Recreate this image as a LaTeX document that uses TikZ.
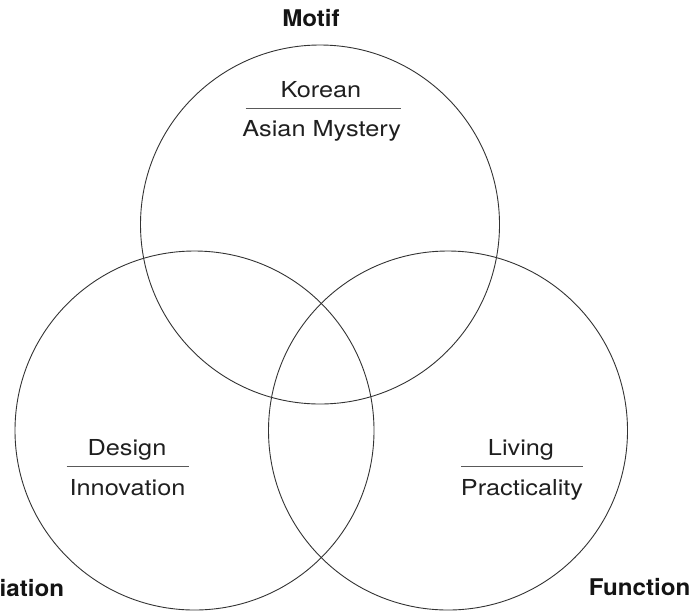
\documentclass[tikz,border=0pt]{standalone}
\usepackage{graphicx}
\usepackage{fontspec}
\setmainfont{TeX Gyre Heros}
\newcommand{\widetxt}[1]{\scalebox{1.15}[1]{#1}}
\newcommand{\widebold}[1]{\scalebox{1.05}[1]{#1}}
\begin{document}
\begin{tikzpicture}[x=1pt,y=-1pt,
  ring/.style={circle,draw=black!80,line width=0.9pt,minimum size=359pt,inner sep=0pt},
  lbl/.style={font=\fontsize{22}{26}\selectfont,text=black!88,inner sep=0pt,anchor=base},
  head/.style={font=\fontsize{23}{26}\selectfont\bfseries,text=black!92,inner sep=0pt,anchor=base},
  rule/.style={draw=black!65,line width=0.9pt}]
\useasboundingbox (0,0) rectangle (692,611);
\node[ring] (top) at (320,224.5) {};
\node[ring] (left) at (194.5,430.5) {};
\node[ring] (right) at (448,430.5) {};
% top
\node[head] (motif) at (311,26.5) {\widebold{Motif}};
\node[lbl] (korean) at (321,97) {\widetxt{Korean}};
\coordinate (k1) at (245.5,108.3);
\coordinate (k2) at (401,108.3);
\draw[rule] (k1) -- (k2);
\node[lbl] (asian) at (321.7,136.5) {\widetxt{Asian Mystery}};
% left
\node[lbl] (design) at (127,455) {\widetxt{Design}};
\coordinate (d1) at (66.7,466.7);
\coordinate (d2) at (189.3,466.7);
\draw[rule] (d1) -- (d2);
\node[lbl] (innov) at (127.5,495.5) {\widetxt{Innovation}};
\node[head,anchor=base west] (iation) at (-0.5,596) {\widebold{iation}};
% right
\node[lbl] (living) at (521,455) {\widetxt{Living}};
\coordinate (l1) at (461,466);
\coordinate (l2) at (583.3,466);
\draw[rule] (l1) -- (l2);
\node[lbl] (pract) at (522,495) {\widetxt{Practicality}};
\node[head,anchor=base east] (func) at (690.5,595) {\widebold{Function}};
\end{tikzpicture}
\end{document}
